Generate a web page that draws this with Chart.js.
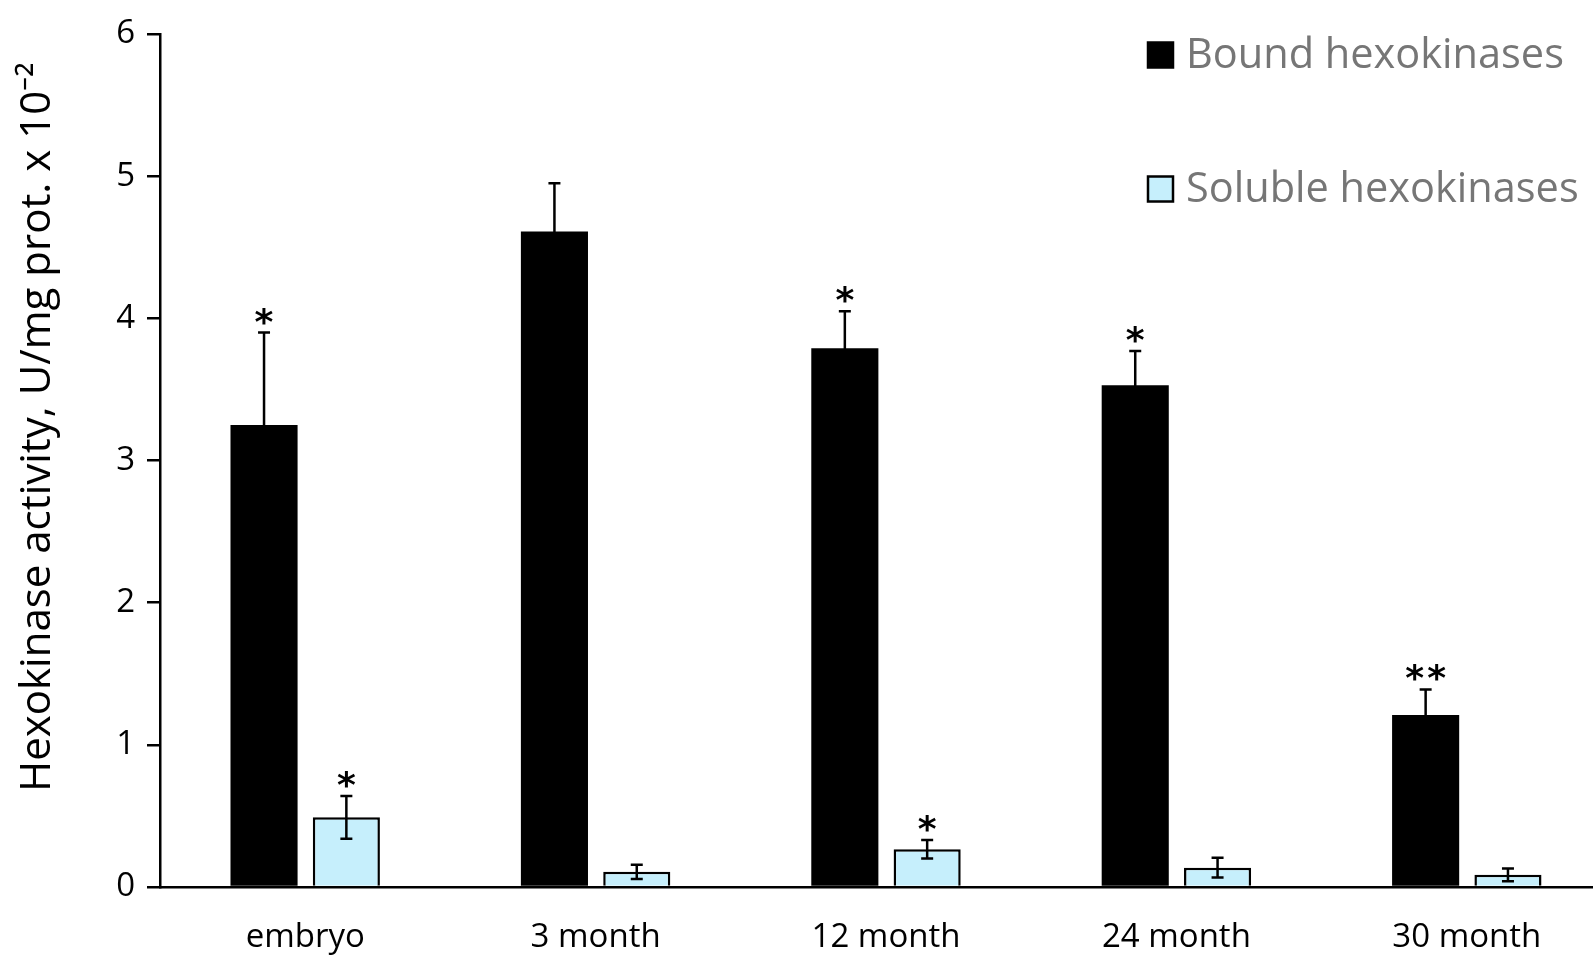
<!DOCTYPE html>
<html><head><meta charset="utf-8">
<script src="https://cdn.jsdelivr.net/npm/chart.js@4"></script>
<style>
html,body{margin:0;padding:0;background:#fff;overflow:hidden;width:1593px;height:958px;}
#wrap{position:absolute;left:0;top:0;width:1612px;height:958px;}
</style></head><body>
<div id="wrap"><canvas id="c" width="1612" height="958"></canvas></div>
<script>
const categories = ['embryo', '3 month', '12 month', '24 month', '30 month'];
const boundValues = [3.25, 4.61, 3.79, 3.53, 1.21];
const boundErrors = [0.65, 0.34, 0.26, 0.24, 0.18];
const boundMarks = ['*', '', '*', '*', '**'];
const solubleValues = [0.49, 0.107, 0.265, 0.136, 0.086];
const solubleErrors = [0.15, 0.05, 0.065, 0.07, 0.045];
const solubleMarks = ['*', '', '*', '', ''];
const seriesNames = ['Bound hexokinases', 'Soluble hexokinases'];
const yTicks = [0, 1, 2, 3, 4, 5, 6];
const yTitle = 'Hexokinase activity, U/mg prot. x 10⁻²';

const errs = [boundErrors, solubleErrors];
const marks = [boundMarks, solubleMarks];

const errorPlugin = {
  id: 'errbars',
  afterDatasetsDraw(chart) {
    const ctx = chart.ctx, y = chart.scales.y;
    chart.data.datasets.forEach((ds, di) => {
      const meta = chart.getDatasetMeta(di);
      meta.data.forEach((bar, i) => {
        const v = ds.data[i], e = errs[di][i];
        const yt = y.getPixelForValue(v + e), yb = y.getPixelForValue(v - e);
        const cap = 6;
        ctx.save();
        ctx.strokeStyle = '#000'; ctx.lineWidth = 2.5;
        ctx.beginPath();
        ctx.moveTo(bar.x, yt); ctx.lineTo(bar.x, yb);
        ctx.moveTo(bar.x - cap, yt); ctx.lineTo(bar.x + cap, yt);
        ctx.moveTo(bar.x - cap, yb); ctx.lineTo(bar.x + cap, yb);
        ctx.stroke();
        const m = marks[di][i];
        if (m) {
          ctx.fillStyle = '#000';
          ctx.font = 'bold 36px "DejaVu Sans"';
          ctx.textAlign = 'center';
          ctx.textBaseline = 'alphabetic';
          const n = m.length, sp = 22;
          for (let k = 0; k < n; k++) {
            ctx.fillText('*', bar.x + (k - (n - 1) / 2) * sp, yt + 1);
          }
        }
        ctx.restore();
      });
    });
  }
};

const legendPlugin = {
  id: 'customLegend',
  afterDraw(chart) {
    const ctx = chart.ctx;
    const items = chart.data.datasets;
    const x0 = 1148, ys = [55, 189];
    items.forEach((ds, i) => {
      ctx.save();
      ctx.fillStyle = ds.backgroundColor;
      ctx.strokeStyle = '#000';
      ctx.lineWidth = 2.5;
      const s = 25;
      ctx.fillRect(x0, ys[i] - s / 2, s, s);
      ctx.strokeRect(x0, ys[i] - s / 2, s, s);
      ctx.fillStyle = '#767676';
      ctx.font = '41.5px "Open Sans"';
      ctx.textAlign = 'left';
      ctx.textBaseline = 'middle';
      ctx.fillText(ds.label, x0 + 38, ys[i] + 1);
      ctx.restore();
    });
    // y-axis title
    ctx.save();
    ctx.translate(38, 427);
    ctx.rotate(-Math.PI / 2);
    ctx.fillStyle = '#000';
    ctx.font = '42px "Open Sans"';
    ctx.textAlign = 'center';
    ctx.textBaseline = 'middle';
    ctx.fillText(yTitle, 0, 0);
    ctx.restore();
  }
};

new Chart(document.getElementById('c'), {
  type: 'bar',
  data: {
    labels: categories,
    datasets: [
      { label: seriesNames[0], data: boundValues, backgroundColor: '#000000', borderColor: '#000000', borderWidth: 0 },
      { label: seriesNames[1], data: solubleValues, backgroundColor: '#c6effc', borderColor: '#000000', borderWidth: 2.5, borderSkipped: 'bottom' }
    ]
  },
  options: {
    responsive: false,
    animation: false,
    categoryPercentage: 0.567,
    barPercentage: 0.815,
    layout: { padding: { top: 34, left: 0, right: 0, bottom: 0 } },
    plugins: { legend: { display: false }, tooltip: { enabled: false } },
    scales: {
      x: {
        grid: { display: false, drawTicks: false },
        border: { display: true, color: '#000', width: 2.5 },
        ticks: { color: '#000', font: { family: 'Open Sans', size: 33 }, padding: 31, maxRotation: 0 },
        afterFit(s) { s.height = 71; }
      },
      y: {
        min: 0, max: 6,
        afterBuildTicks(s) { s.ticks = yTicks.map(v => ({ value: v })); },
        grid: { drawOnChartArea: false, drawTicks: true, tickLength: 13, color: '#000', lineWidth: 2.5 },
        border: { display: true, color: '#000', width: 2.5 },
        ticks: { color: '#000', font: { family: 'Open Sans', size: 33 }, padding: 12 },
        title: { display: false, text: yTitle },
        afterFit(s) { s.width = 160; }
      }
    }
  },
  plugins: [errorPlugin, legendPlugin]
});
</script>
</body></html>
